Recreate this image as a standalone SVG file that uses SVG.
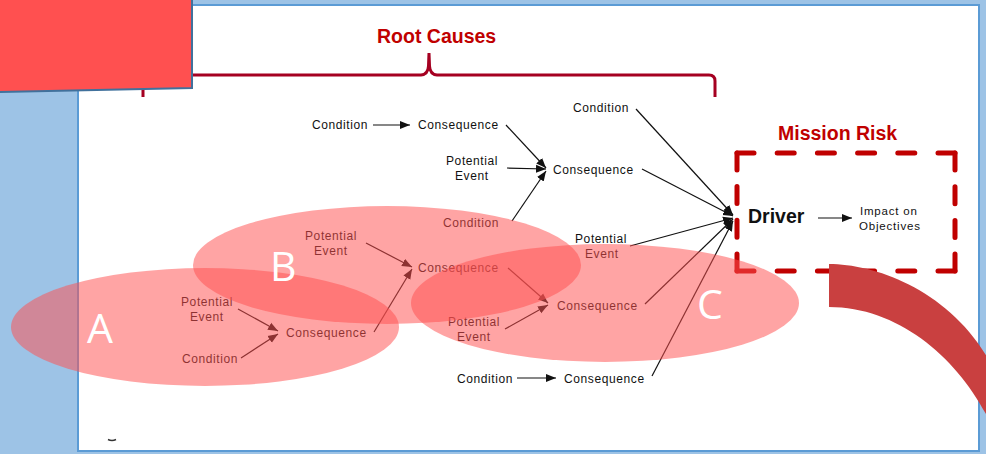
<svg xmlns="http://www.w3.org/2000/svg" width="986" height="454" viewBox="0 0 986 454">
  <defs>
    <style>
      .t { font-family: "Liberation Sans", Arial, sans-serif; font-size: 12px; letter-spacing: 0.6px; fill: #111; }
      .ts { font-family: "Liberation Sans", Arial, sans-serif; font-size: 11.5px; letter-spacing: 0.8px; fill: #111; }
      .hd { font-family: "Liberation Sans", Arial, sans-serif; font-size: 19.5px; font-weight: bold; fill: #C00000; }
      .drv { font-family: "Liberation Sans", Arial, sans-serif; font-size: 19.5px; font-weight: bold; fill: #111; }
      .big { font-family: "Open Sans", "Liberation Sans", sans-serif; font-size: 41px; fill: #fff; }
      .ln { stroke: #111; stroke-width: 1.2; fill: none; marker-end: url(#ah); }
      .zone { fill: #FF5050; fill-opacity: 0.52; }
      .dash { stroke: #C00000; stroke-width: 5; fill: none; stroke-linecap: round; }
    </style>
    <marker id="ah" markerWidth="11" markerHeight="9" refX="10" refY="4.5" orient="auto" markerUnits="userSpaceOnUse">
      <path d="M0,0.5 L10,4.5 L0,8.5 z" fill="#111"/>
    </marker>
  </defs>

  <!-- slide background and content panel -->
  <rect x="0" y="0" width="986" height="454" fill="#9DC3E6"/>
  <rect id="panel" x="78" y="5" width="901" height="446" fill="#fff" stroke="#5B9BD5" stroke-width="2"/>

  <!-- brace over the root causes -->
  <g id="root-causes">
    <path d="M143,97 L143,81 Q143,75 149,75 L421,75 Q428,74.5 428.5,66 L429,53 L429.5,66 Q430,74.5 437,75 L709,75 Q715,75 715,81 L715,97" fill="none" stroke="#A50021" stroke-width="3"/>
    <text class="hd" x="377" y="43">Root Causes</text>
  </g>

  <!-- mission risk box -->
  <g id="mission-risk">
    <text class="hd" x="778" y="140">Mission Risk</text>
    <path class="dash" d="M737,153 H955" stroke-dasharray="17 23.2"/>
    <path class="dash" d="M955,153 V271" stroke-dasharray="17 16.7"/>
    <path class="dash" d="M955,271 H737" stroke-dasharray="17 23.2"/>
    <path class="dash" d="M737,271 V153" stroke-dasharray="17 16.7"/>
  </g>
  <g id="driver"><text class="drv" x="748" y="223">Driver</text></g>
  <g id="impact">
    <text class="ts" x="860" y="215">Impact on</text>
    <text class="ts" x="859" y="230">Objectives</text>
  </g>

  <!-- cause nodes -->
  <g id="cond-1"><text class="t" x="312" y="129">Condition</text></g>
  <g id="cons-1"><text class="t" x="418" y="129">Consequence</text></g>
  <g id="event-1"><text class="t" x="446" y="165">Potential</text><text class="t" x="455" y="180">Event</text></g>
  <g id="cons-2"><text class="t" x="553" y="174">Consequence</text></g>
  <g id="cond-2"><text class="t" x="443" y="227">Condition</text></g>
  <g id="cond-3"><text class="t" x="573" y="112">Condition</text></g>
  <g id="event-2"><text class="t" x="575" y="243">Potential</text><text class="t" x="585" y="258">Event</text></g>
  <g id="event-b"><text class="t" x="305" y="240">Potential</text><text class="t" x="314" y="255">Event</text></g>
  <g id="cons-b"><text class="t" x="418" y="272">Consequence</text></g>
  <g id="event-a"><text class="t" x="181" y="306">Potential</text><text class="t" x="190" y="321">Event</text></g>
  <g id="cond-a"><text class="t" x="182" y="363">Condition</text></g>
  <g id="cons-a"><text class="t" x="286" y="337">Consequence</text></g>
  <g id="cons-c"><text class="t" x="557" y="310">Consequence</text></g>
  <g id="event-c"><text class="t" x="448" y="326">Potential</text><text class="t" x="457" y="341">Event</text></g>
  <g id="cond-4"><text class="t" x="457" y="383">Condition</text></g>
  <g id="cons-4"><text class="t" x="564" y="383">Consequence</text></g>

  <!-- connectors -->
  <g id="connectors">
    <line class="ln" x1="373" y1="125" x2="410" y2="125"/>
    <line class="ln" x1="506" y1="125" x2="546" y2="168"/>
    <line class="ln" x1="507" y1="168" x2="546" y2="169"/>
    <line class="ln" x1="512" y1="221" x2="546" y2="171"/>
    <line class="ln" x1="636" y1="109" x2="733" y2="215"/>
    <line class="ln" x1="642" y1="169" x2="733" y2="216"/>
    <line class="ln" x1="630" y1="246" x2="733" y2="218"/>
    <line class="ln" x1="645" y1="304" x2="733" y2="219"/>
    <line class="ln" x1="652" y1="376" x2="733" y2="221"/>
    <line class="ln" x1="517" y1="378" x2="556" y2="378"/>
    <line class="ln" x1="508" y1="268" x2="548" y2="303"/>
    <line class="ln" x1="505" y1="329" x2="548" y2="305"/>
    <line class="ln" x1="366" y1="243" x2="412" y2="267"/>
    <line class="ln" x1="374" y1="332" x2="412" y2="269"/>
    <line class="ln" x1="238" y1="309" x2="278" y2="331"/>
    <line class="ln" x1="241" y1="358" x2="278" y2="334"/>
    <line class="ln" x1="818" y1="218" x2="852" y2="218"/>
  </g>

  <!-- small mark at the panel's lower left -->
  <path d="M108,439.5 Q112,441.5 116,439.5" fill="none" stroke="#333" stroke-width="1.4"/>

  <!-- highlighted zones -->
  <g id="zone-a"><ellipse class="zone" cx="205" cy="327" rx="194" ry="59"/></g>
  <g id="zone-b"><ellipse class="zone" cx="387" cy="265" rx="194" ry="59"/></g>
  <g id="zone-c"><ellipse class="zone" cx="605" cy="303" rx="194" ry="59"/></g>
  <text class="big" x="87" y="343">A</text>
  <text class="big" x="270" y="281">B</text>
  <text class="big" x="697" y="319">C</text>

  <!-- curved band at lower right -->
  <path d="M829,264 C875,264 950,290 990,362 L990,422 C960,360 900,307 829,307 Z" fill="#C94040"/>

  <!-- red tab at top left -->
  <polygon points="-2,-2 192,-2 192,88 -2,92" fill="#FF5050" stroke="#41719C" stroke-width="2"/>
</svg>
